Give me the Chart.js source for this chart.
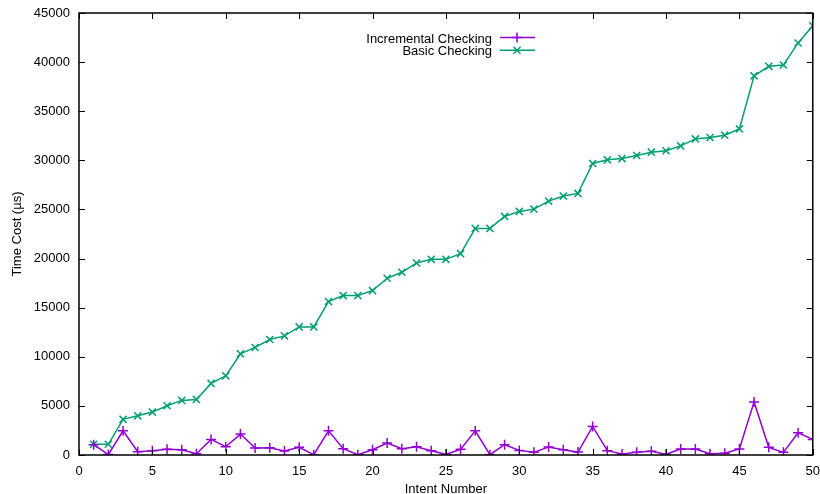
<!DOCTYPE html>
<html>
<head>
<meta charset="utf-8">
<script src="https://cdn.jsdelivr.net/npm/chart.js@4.4.1/dist/chart.umd.min.js"></script>
<style>
  html, body { margin: 0; padding: 0; background: #fff; }
  #wrap { width: 820px; height: 494px; }
</style>
</head>
<body>
<div id="wrap"><canvas id="chartCost"></canvas></div>
<script>
// intent numbers 1..50
let intents = [];
for (let i = 1; i <= 50; i++) intents.push(i);

let incremental = [1050, 40, 2470, 340, 440, 575, 540, 135, 1590, 845,
  2130, 710, 745, 405, 780, 30, 2470, 640, 30, 540,
  1220, 640, 845, 440, 70, 575, 2470, 30, 1050, 470,
  270, 810, 540, 300, 2910, 440, 100, 270, 370, 70,
  610, 610, 135, 170, 610, 5400, 780, 270, 2270, 1590];

let basic = [1090, 1090, 3630, 3990, 4370, 5010, 5560, 5660, 7290, 8060,
  10300, 10950, 11760, 12130, 13040, 13040, 15620, 16230, 16230, 16740,
  17990, 18600, 19550, 19920, 19920, 20500, 23070, 23070, 24290, 24800,
  25030, 25850, 26360, 26630, 29680, 30050, 30180, 30490, 30830, 30970,
  31470, 32180, 32320, 32560, 33200, 38600, 39570, 39700, 41950, 43700];

let xTicks = [0, 5, 10, 15, 20, 25, 30, 35, 40, 45, 50];
let yTicks = [0, 5000, 10000, 15000, 20000, 25000, 30000, 35000, 40000, 45000];

let FONT = 'Liberation Sans, Arial, Helvetica, sans-serif';

function toPoints(vals){
    let arr = [];
    for (let i = 0; i < vals.length; i++){
        arr.push({x: intents[i], y: vals[i]});
    }
    return arr;
}

// gnuplot style frame: border box + inward ticks on all four sides
let framePlugin = {
    id: 'frame',
    afterDraw(chart){
        let ctx = chart.ctx;
        let a = chart.chartArea;
        let xs = chart.scales.x, ys = chart.scales.y;
        ctx.save();
        ctx.strokeStyle = '#000';
        ctx.lineWidth = 1;
        ctx.beginPath();
        xTicks.forEach(function(v){
            let px = Math.round(xs.getPixelForValue(v)) + 0.5;
            ctx.moveTo(px, a.bottom); ctx.lineTo(px, a.bottom - 6);
            ctx.moveTo(px, a.top); ctx.lineTo(px, a.top + 6);
        });
        yTicks.forEach(function(v){
            let py = Math.round(ys.getPixelForValue(v)) + 0.5;
            ctx.moveTo(a.left, py); ctx.lineTo(a.left + 6, py);
            ctx.moveTo(a.right, py); ctx.lineTo(a.right - 6, py);
        });
        ctx.stroke();
        ctx.lineWidth = 1.5;
        ctx.strokeRect(a.left, a.top, a.right - a.left, a.bottom - a.top);
        ctx.restore();
    }
};

// legend: text right-aligned, then sample line with marker
let keyPlugin = {
    id: 'key',
    afterDraw(chart){
        let ctx = chart.ctx;
        ctx.save();
        ctx.font = '13px ' + FONT;
        ctx.textAlign = 'right';
        ctx.textBaseline = 'middle';
        chart.data.datasets.forEach(function(ds, i){
            let y = 37.5 + i * 12.8;
            ctx.fillStyle = '#000';
            ctx.fillText(ds.label, 492, y + 1.5);
            ctx.strokeStyle = ds.borderColor;
            ctx.lineWidth = 1.5;
            ctx.beginPath();
            ctx.moveTo(500, y); ctx.lineTo(535, y);
            ctx.stroke();
            Chart.helpers.drawPoint(ctx, {pointStyle: ds.pointStyle, radius: 5, rotation: 0, borderWidth: 1.5}, 517, y);
        });
        ctx.restore();
    }
};

function buildCostChart(){
    let cfg = {
        type: 'line',
        data: {
            datasets: [{
                label: 'Incremental Checking',
                data: toPoints(incremental),
                borderColor: '#9400D3',
                backgroundColor: '#9400D3',
                pointStyle: 'cross',
                pointRadius: 5,
                pointBorderWidth: 1.5,
                borderWidth: 1.5,
                fill: false,
                tension: 0
            }, {
                label: 'Basic Checking',
                data: toPoints(basic),
                borderColor: '#009E73',
                backgroundColor: '#009E73',
                pointStyle: 'crossRot',
                pointRadius: 5,
                pointBorderWidth: 1.5,
                borderWidth: 1.5,
                fill: false,
                tension: 0
            }]
        },
        options: {
            responsive: true,
            maintainAspectRatio: false,
            animation: false,
            layout: { padding: { top: 13, right: 7, left: 0, bottom: 0 } },
            plugins: { legend: { display: false }, tooltip: { enabled: false } },
            scales: {
                x: {
                    type: 'linear',
                    min: 0, max: 50,
                    afterBuildTicks: function(s){ s.ticks = xTicks.map(function(v){ return {value: v}; }); },
                    afterFit: function(s){ s.height = 39; },
                    grid: { display: false, drawTicks: true, tickLength: 9 },
                    border: { display: false },
                    ticks: { color: '#000', padding: 0, font: { family: FONT, size: 13 }, maxRotation: 0 },
                    title: { display: true, text: 'Intent Number', color: '#000', padding: { top: 2, bottom: -3 }, font: { family: FONT, size: 13 } }
                },
                y: {
                    type: 'linear',
                    min: 0, max: 45000,
                    afterBuildTicks: function(s){ s.ticks = yTicks.map(function(v){ return {value: v}; }); },
                    afterFit: function(s){ s.width = 79; },
                    grid: { display: false, drawTicks: true, tickLength: 9 },
                    border: { display: false },
                    ticks: { color: '#000', padding: 0, font: { family: FONT, size: 13 }, callback: function(v){ return String(v); } },
                    title: { display: true, text: 'Time Cost (µs)', color: '#000', padding: { top: 10, bottom: 0 }, font: { family: FONT, size: 13 } }
                }
            }
        },
        plugins: [framePlugin, keyPlugin]
    };
    let ctx = document.getElementById('chartCost').getContext('2d');
    new Chart(ctx, cfg);
}

buildCostChart();
</script>
</body>
</html>
